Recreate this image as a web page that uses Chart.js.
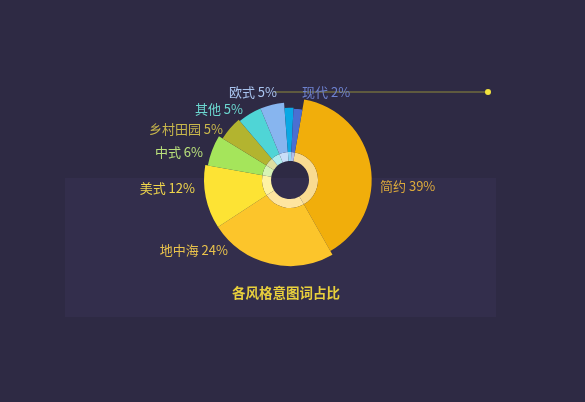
<!DOCTYPE html>
<html>
<head>
<meta charset="utf-8">
<script src="https://cdn.jsdelivr.net/npm/chart.js@4.4.1/dist/chart.umd.min.js"></script>
<style>
  html, body { margin: 0; padding: 0; background: #2e2a44; }
  #wrap { position: relative; width: 585px; height: 402px; }
</style>
</head>
<body>
<div id="wrap"><canvas id="styleChart" width="585" height="402"></canvas></div>
<script>
// Données (ordre horaire depuis le haut)
const styles = ['简约', '地中海', '美式', '中式', '乡村田园', '其他', '欧式', '', '现代'];
const shares = [39, 24, 12, 6, 5, 5, 5, 2, 2];
const reachPct = [95, 100, 100, 97, 92, 90, 90, 84, 83]; // longueur relative de chaque part

const sliceColors = ['#f1ae0b', '#fcc52b', '#fde334', '#a5e55b', '#b3b42f', '#4fd5d6', '#87b5ef', '#0ba8e4', '#4b6fd2'];
const labelColors = ['#dca93c', '#e9c24c', '#f0d64c', '#b9e07b', '#c9b84c', '#6bd6cf', '#a9c4ef', '#6bc4e8', '#6e82d0'];

// Position des étiquettes par rapport au centre [dx, dy, alignement]
const labelSpots = [
    [90, 6, 'left'],
    [-62, 70, 'right'],
    [-95, 8, 'right'],
    [-87, -28, 'right'],
    [-67, -51, 'right'],
    [-47, -71, 'right'],
    [-13, -88, 'right'],
    null,
    [12, -88, 'left']
];

const CJK = '"Noto Sans CJK SC", "Noto Sans", sans-serif';

// Mélange avec du blanc pour l'anneau intérieur
function pale(hex, k) {
    const n = parseInt(hex.slice(1), 16);
    const r = (n >> 16) & 255, g = (n >> 8) & 255, b = n & 255;
    const mix = c => Math.round(c + (255 - c) * k);
    return `rgb(${mix(r)}, ${mix(g)}, ${mix(b)})`;
}

const rosePlugin = {
    id: 'rose',
    beforeDraw(chart) {
        const ctx = chart.ctx;
        ctx.save();
        ctx.fillStyle = '#332e4c';
        ctx.fillRect(65, 178, 431, 139);
        ctx.restore();
    },
    afterDatasetsUpdate(chart) {
        const outer = chart.getDatasetMeta(0);
        const ring = chart.getDatasetMeta(1);
        const maxR = outer.controller.outerRadius;
        outer.data.forEach((arc, i) => {
            arc.outerRadius = maxR * reachPct[i] / 100;
            arc.innerRadius = 28;
        });
        ring.data.forEach(arc => {
            arc.outerRadius = 28;
            arc.innerRadius = 19;
        });
    },
    afterDatasetsDraw(chart) {
        const ctx = chart.ctx;
        const first = chart.getDatasetMeta(0).data[0];
        const cx = first.x, cy = first.y;
        ctx.save();

        // ligne de rappel vers la droite
        ctx.strokeStyle = '#8f8a3a';
        ctx.lineWidth = 1;
        ctx.beginPath();
        ctx.moveTo(cx - 16, cy - 88);
        ctx.lineTo(cx + 198, cy - 88);
        ctx.stroke();
        ctx.fillStyle = '#f3e33e';
        ctx.beginPath();
        ctx.arc(cx + 198, cy - 88, 3, 0, Math.PI * 2);
        ctx.fill();

        // étiquettes
        ctx.font = '13px ' + CJK;
        ctx.textBaseline = 'middle';
        styles.forEach((name, i) => {
            const spot = labelSpots[i];
            if (!name || !spot) return;
            ctx.fillStyle = labelColors[i];
            ctx.textAlign = spot[2];
            ctx.fillText(name + ' ' + shares[i] + '%', cx + spot[0], cy + spot[1]);
        });

        // titre
        ctx.font = 'bold 13.5px ' + CJK;
        ctx.fillStyle = '#e8cf3c';
        ctx.textAlign = 'center';
        ctx.fillText('各风格意图词占比', cx - 4, cy + 113);
        ctx.restore();
    }
};

const styleChart = new Chart(document.getElementById('styleChart'), {
    type: 'doughnut',
    data: {
        labels: styles,
        datasets: [{
            data: shares,
            backgroundColor: sliceColors,
            borderWidth: 0
        }, {
            data: shares,
            backgroundColor: sliceColors.map(c => pale(c, 0.55)),
            borderWidth: 0
        }]
    },
    options: {
        responsive: false,
        animation: false,
        events: [],
        rotation: 10,
        cutout: 19,
        layout: {
            padding: { left: 150, right: 155, top: 94, bottom: 136 }
        },
        plugins: {
            legend: { display: false },
            tooltip: { enabled: false }
        }
    },
    plugins: [rosePlugin]
});
</script>
</body>
</html>
